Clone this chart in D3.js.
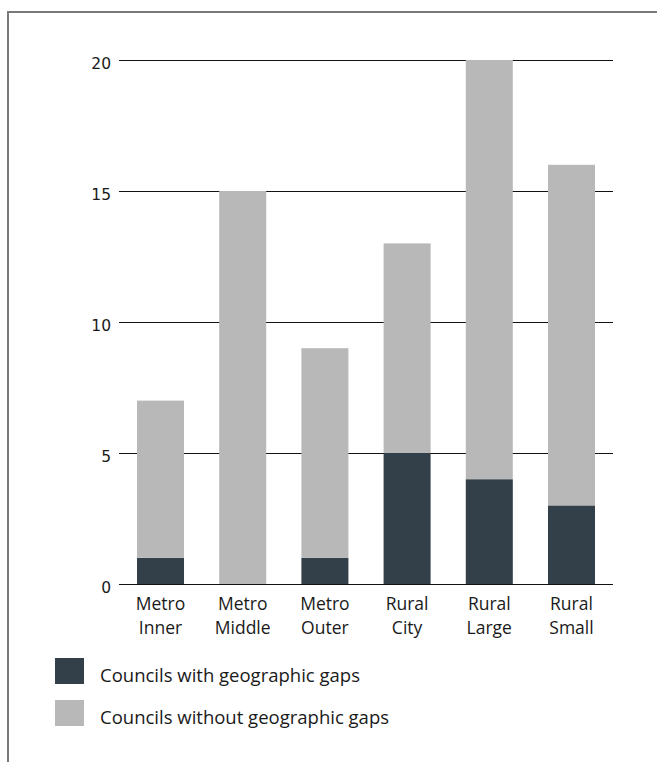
<!DOCTYPE html>
<html>
<head>
  <meta charset="utf-8">
  <title>Councils with geographic gaps</title>
  <script src="https://d3js.org/d3.v7.min.js"></script>
  <style>
    body { margin: 0; background: #fff; }
    svg text { fill: #1a1a1a; }
  </style>
</head>
<body>
  <div id="vis"></div>
  <script>
    const width = 657
    const height = 762

    // data
    const categories = [["Metro", "Inner"], ["Metro", "Middle"], ["Metro", "Outer"],
                        ["Rural", "City"], ["Rural", "Large"], ["Rural", "Small"]]
    const withGaps = [1, 0, 1, 5, 4, 3]
    const withoutGaps = [6, 15, 8, 8, 16, 13]
    const yTicks = [0, 5, 10, 15, 20]
    const seriesNames = ["Councils with geographic gaps", "Councils without geographic gaps"]
    const colors = ["#333f49", "#b8b8b8"]

    const rows = categories.map((c, i) => ({ key: c.join(" "), label: c, a: withGaps[i], b: withoutGaps[i] }))

    const svg = d3.select("#vis").append("svg")
      .attr("width", width)
      .attr("height", height)

    // frame
    svg.append("path")
      .attr("d", `M8,${height} V12 H${width}`)
      .attr("fill", "none")
      .attr("stroke", "#7a7a7a")
      .attr("stroke-width", 2)

    const x = d3.scaleBand()
      .domain(rows.map(d => d.key))
      .range([119, 613])
      .paddingInner(0.428)
      .paddingOuter(0.219)

    const y = d3.scaleLinear()
      .domain([0, 20])
      .range([584, 60])

    // gridlines
    svg.append("g")
      .selectAll("line")
      .data(yTicks)
      .join("line")
      .attr("x1", 119)
      .attr("x2", 613)
      .attr("y1", d => Math.round(y(d)) + 0.5)
      .attr("y2", d => Math.round(y(d)) + 0.5)
      .attr("stroke", "#111")
      .attr("stroke-width", 1)

    svg.append("g")
      .selectAll("text")
      .data(yTicks)
      .join("text")
      .attr("x", 111)
      .attr("y", d => y(d) + 9)
      .attr("text-anchor", "end")
      .style("font-family", "DejaVu Sans")
      .style("font-size", "15.5px")
      .text(d => d)

    const stack = d3.stack().keys(["a", "b"])(rows)

    svg.append("g")
      .selectAll("g")
      .data(stack)
      .join("g")
      .attr("fill", (d, i) => colors[i])
      .selectAll("rect")
      .data(d => d)
      .join("rect")
      .attr("x", d => x(d.data.key))
      .attr("width", x.bandwidth())
      .attr("y", d => y(d[1]))
      .attr("height", d => y(d[0]) - y(d[1]))

    // category labels
    const lab = svg.append("g")
      .selectAll("text")
      .data(rows)
      .join("text")
      .attr("x", d => x(d.key) + x.bandwidth() / 2)
      .attr("text-anchor", "middle")
      .style("font-family", "Open Sans")
      .style("font-size", "17.5px")

    lab.append("tspan").attr("x", d => x(d.key) + x.bandwidth() / 2).attr("y", 610).text(d => d.label[0])
    lab.append("tspan").attr("x", d => x(d.key) + x.bandwidth() / 2).attr("y", 634).text(d => d.label[1])

    // legend
    const legend = svg.append("g")
      .selectAll("g")
      .data(seriesNames)
      .join("g")
      .attr("transform", (d, i) => `translate(55,${658 + i * 42})`)

    legend.append("rect")
      .attr("width", 29)
      .attr("height", 26)
      .attr("fill", (d, i) => colors[i])

    legend.append("text")
      .attr("x", 45)
      .attr("y", 24)
      .style("font-family", "Open Sans")
      .style("font-size", "18.5px")
      .text(d => d)
  </script>
</body>
</html>
